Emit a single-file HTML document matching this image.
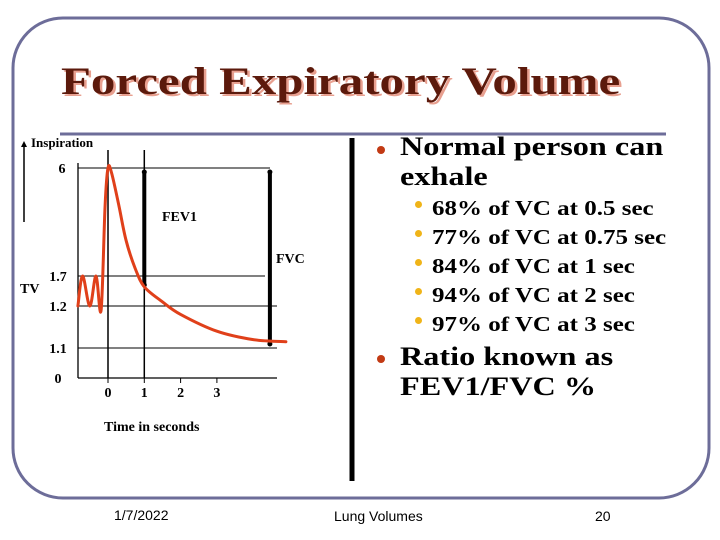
<!DOCTYPE html>
<html><head><meta charset="utf-8"><style>
body{margin:0;background:#fff;}
#slide{position:relative;width:720px;height:540px;overflow:hidden;background:#fff;font-family:"Liberation Serif",serif;}
.t{position:absolute;white-space:nowrap;transform-origin:0 0;}
.b1{font-size:26px;font-weight:bold;color:#000;left:400px;line-height:30px;transform:scaleX(1.24);}
.b2{font-size:21px;font-weight:bold;color:#000;left:432px;transform:scaleX(1.19);}
.dot{position:absolute;border-radius:50%;}
.foot{font-family:"Liberation Sans",sans-serif;font-size:14px;color:#000;}
</style></head><body>
<div id="slide">
<svg width="720" height="540" style="position:absolute;left:0;top:0">
  <rect x="13" y="18" width="696" height="480" rx="50" ry="50" fill="none" stroke="#6d6d99" stroke-width="3"/>
  <line x1="60" y1="134" x2="666" y2="134" stroke="#6d6d99" stroke-width="3"/>
  <line x1="352" y1="138" x2="352" y2="481" stroke="#000" stroke-width="5"/>
  <g transform="translate(61,94) scale(1.255,1)">
  <text x="2" y="2" font-family="Liberation Serif, serif" font-weight="bold" font-size="39" fill="#e8a090">Forced Expiratory Volume</text>
  <text x="0" y="0" font-family="Liberation Serif, serif" font-weight="bold" font-size="39" fill="#5c1a0c">Forced Expiratory Volume</text>
  </g>
</svg>
<svg id="chart" width="360" height="320" style="position:absolute;left:0;top:120"></svg>

<div class="dot" style="left:377px;top:146px;width:8px;height:8px;background:#c23a14"></div>
<div class="t b1" style="top:132px">Normal person can<br>exhale</div>
<div class="dot" style="left:415px;top:201px;width:7px;height:7px;background:#f0b418"></div>
<div class="t b2" style="top:196px">68% of VC at 0.5 sec</div>
<div class="dot" style="left:415px;top:230px;width:7px;height:7px;background:#f0b418"></div>
<div class="t b2" style="top:225px">77% of VC at 0.75 sec</div>
<div class="dot" style="left:415px;top:259px;width:7px;height:7px;background:#f0b418"></div>
<div class="t b2" style="top:254px">84% of VC at 1 sec</div>
<div class="dot" style="left:415px;top:288px;width:7px;height:7px;background:#f0b418"></div>
<div class="t b2" style="top:283px">94% of VC at 2 sec</div>
<div class="dot" style="left:415px;top:317px;width:7px;height:7px;background:#f0b418"></div>
<div class="t b2" style="top:312px">97% of VC at 3 sec</div>
<div class="dot" style="left:377px;top:355px;width:8px;height:8px;background:#c23a14"></div>
<div class="t b1" style="top:342px">Ratio known as<br>FEV1/FVC %</div>

<div class="t foot" style="left:114px;top:507px">1/7/2022</div>
<div class="t foot" style="left:334px;top:508px">Lung Volumes</div>
<div class="t foot" style="left:595px;top:508px">20</div>
</div>
<script>
const yTickValues=[0,1.1,1.2,1.7,6];
const yTickLabels=["0","1.1","1.2","1.7","6"];
const xTickValues=[0,1,2,3];
const xTickLabels=["0","1","2","3"];
const curveTimes=[-0.83,-0.7,-0.5,-0.33,-0.19,-0.08,0,0.1,0.3,0.5,0.75,1,1.5,2,3,4,4.9];
const curveVolumes=[1.2,1.7,1.2,1.7,1.19,4.5,6,5.8,4.5,3.1,2.0,1.52,1.27,1.18,1.14,1.12,1.115];
const fev1Time=1, fvcTime=4.46, fev1Vol=1.55, fvcVol=1.1, peakVol=6;

const NS="http://www.w3.org/2000/svg";
const svg=document.getElementById('chart');
const OY=120;
const yPix=[378,348,306,276,168].map(v=>v-OY);
function yScale(v){
  for(let i=0;i<yTickValues.length-1;i++){
    if(v<=yTickValues[i+1]||i===yTickValues.length-2){
      const f=(v-yTickValues[i])/(yTickValues[i+1]-yTickValues[i]);
      return yPix[i]+f*(yPix[i+1]-yPix[i]);
    }
  }
}
function xScale(t){return 108+t*36.3;}
function mk(tag,attrs){const e=document.createElementNS(NS,tag);for(const k in attrs)e.setAttribute(k,attrs[k]);svg.appendChild(e);return e;}
function txt(x,y,s,size,anchor){const e=mk('text',{x:x,y:y,'font-family':'Liberation Serif, serif','font-weight':'bold','font-size':size,'text-anchor':anchor||'start'});e.textContent=s;return e;}

let e=mk('line',{x1:78,y1:163-OY,x2:78,y2:yScale(0),stroke:'#000','stroke-width':1.3});


e=mk('line',{x1:78,y1:yScale(0),x2:277,y2:yScale(0),stroke:'#000','stroke-width':1.3});


const gridEnd={6:270,1.7:265,1.2:277,1.1:277};
yTickValues.forEach((v,i)=>{
  if(v>0){
    const g=mk('line',{x1:78,y1:yScale(v),x2:gridEnd[v],y2:yScale(v),stroke:'#000','stroke-width':1});
    
    
  }
  const t=txt(v===6?62:58,yScale(v)+5,yTickLabels[i],14,'middle');
  
  
});
xTickValues.forEach((v,i)=>{
  const tk=mk('line',{x1:xScale(v),y1:yScale(0),x2:xScale(v),y2:yScale(0)+5,stroke:'#000','stroke-width':1});
  
  
  const t=txt(xScale(v),397-OY,xTickLabels[i],14,'middle');
  
  
});
[0,1].forEach(v=>{
  const l=mk('line',{x1:xScale(v),y1:150-OY,x2:xScale(v),y2:yScale(0),stroke:'#000','stroke-width':1.5});
  
  
});
function arrow(x,y1,y2,name){
  const l=mk('line',{x1:x,y1:y1,x2:x,y2:y2,stroke:'#000','stroke-width':4});
  
  
  mk('circle',{cx:x,cy:y1,r:2.5,fill:'#000'});
  mk('circle',{cx:x,cy:y2,r:2.5,fill:'#000'});
}
arrow(xScale(fev1Time),yScale(peakVol)+4,yScale(fev1Vol),'fev1-arrow');
arrow(xScale(fvcTime),yScale(peakVol)+4,yScale(fvcVol)-4,'fvc-arrow');
const pts=curveTimes.map((t,i)=>[xScale(t),yScale(curveVolumes[i])]);
let d='M'+pts[0][0].toFixed(1)+','+pts[0][1].toFixed(1);
for(let i=0;i<pts.length-1;i++){
  const p0=pts[Math.max(0,i-1)],p1=pts[i],p2=pts[i+1],p3=pts[Math.min(pts.length-1,i+2)];
  const c1=[p1[0]+(p2[0]-p0[0])/6,p1[1]+(p2[1]-p0[1])/6];
  const c2=[p2[0]-(p3[0]-p1[0])/6,p2[1]-(p3[1]-p1[1])/6];
  d+='C'+c1.map(v=>v.toFixed(1)).join(',')+' '+c2.map(v=>v.toFixed(1)).join(',')+' '+p2.map(v=>v.toFixed(1)).join(',');
}
e=mk('path',{d:d,fill:'none',stroke:'#e0401a','stroke-width':3,'stroke-linejoin':'round','stroke-linecap':'round'});


e=txt(162,221-OY,'FEV1',14);


e=txt(276,263-OY,'FVC',14);


e=txt(20,293-OY,'TV',14);


e=txt(31,147-OY,'Inspiration',13);


e=mk('line',{x1:24,y1:222-OY,x2:24,y2:146-OY,stroke:'#000','stroke-width':1.5});


mk('path',{d:'M21,'+(147-OY)+' L24,'+(141-OY)+' L27,'+(147-OY)+'Z',fill:'#000'});
e=txt(104,431-OY,'Time in seconds',14);


</script>
</body></html>
